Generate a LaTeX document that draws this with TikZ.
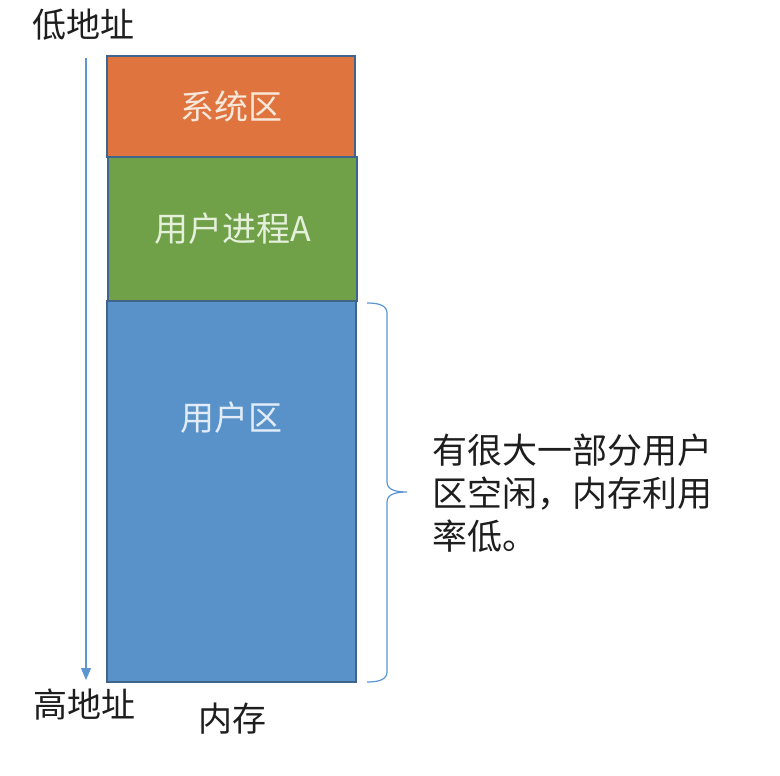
\documentclass[tikz,border=0pt]{standalone}
\usepackage{fontspec}
\newfontfamily\cjk{Noto Sans CJK SC}
\usetikzlibrary{arrows.meta}
\definecolor{sysc}{RGB}{224,116,62}
\definecolor{procc}{RGB}{112,160,72}
\definecolor{userc}{RGB}{88,146,200}
\definecolor{edgec}{RGB}{65,100,140}
\definecolor{linec}{RGB}{91,150,210}
\definecolor{txtc}{RGB}{30,30,30}
\definecolor{systxt}{RGB}{248,232,220}
\definecolor{proctxt}{RGB}{228,240,218}
\definecolor{usertxt}{RGB}{226,236,248}
\tikzset{
  memblock/.style={draw=edgec, line width=1.3pt, inner sep=0pt, font=\cjk\fontsize{34}{40}\selectfont},
  lbl/.style={inner sep=0pt, text=txtc, font=\cjk\fontsize{34}{40}\selectfont},
  note/.style={inner sep=0pt, anchor=west, text=txtc, font=\cjk\fontsize{35}{42}\selectfont},
}
\begin{document}
\begin{tikzpicture}[x=1pt,y=-1pt]
\useasboundingbox[fill=white] (0,0) rectangle (780,776);
% memory blocks
\node[memblock, fill=sysc, text=systxt, minimum width=248pt, minimum height=101pt] (sys) at (231,106.5) {系统区};
\node[memblock, fill=procc, text=proctxt, minimum width=249pt, minimum height=144pt] (proc) at (232.5,229) {用户进程A};
\node[memblock, fill=userc, minimum width=249pt, minimum height=381pt] (user) at (231.5,491.5) {};
\node[inner sep=0pt, text=usertxt, font=\cjk\fontsize{34}{40}\selectfont] (userlbl) at (231,418) {用户区};
% address labels
\node[lbl] (low) at (83,25) {低地址};
\node[lbl] (high) at (85,705) {高地址};
\node[lbl] (mem) at (232,719) {内存};
% address arrow
\coordinate (atop) at (86,58);
\coordinate (abot) at (86,680);
\draw[linec, line width=1.3pt, -{Triangle[width=10pt,length=12pt]}] (atop) -- (abot);
% brace
\coordinate (btop) at (367,303);
\coordinate (btip) at (407,492);
\coordinate (bbot) at (367,682);
\draw[linec, line width=1.2pt] (btop) to[out=0,in=90] (387,313) -- (387,482) to[out=-90,in=180] (btip)
  to[out=180,in=90] (387,502) -- (387,672) to[out=-90,in=0] (bbot);
% note
\node[note] (n1) at (432,450) {有很大一部分用户};
\node[note] (n2) at (432,494) {区空闲，内存利用};
\node[note] (n3) at (432,536) {率低。};
\end{tikzpicture}
\end{document}
